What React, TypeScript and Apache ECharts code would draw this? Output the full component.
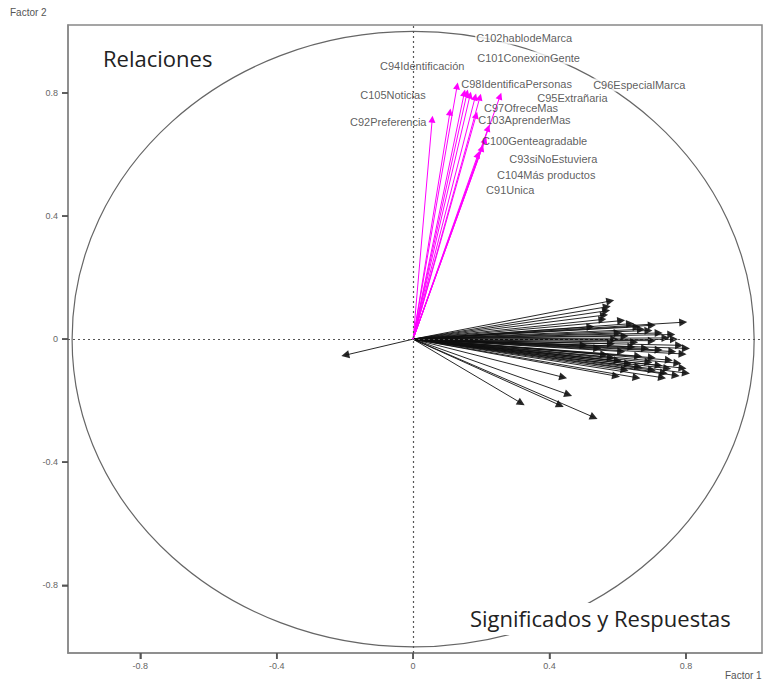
import React, { useEffect, useRef } from 'react';
import * as echarts from 'echarts';

const TICKS = [-0.8, -0.4, 0, 0.4, 0.8];
const X_RANGE = [-1.012, 1.023];
const Y_RANGE = [-1.02, 1.021];
const CIRCLE = { cx: 0, cy: 0, r: 1 };

// Magenta vectors (Relaciones)
const MAG_NAMES = [
  'C92Preferencia', 'C94Identificación', 'C105Noticias', 'C98IdentificaPersonas',
  'C102hablodeMarca', 'C101ConexionGente', 'C96EspecialMarca', 'C95Extrañaria',
  'C97OfreceMas', 'C103AprenderMas', 'C100Genteagradable', 'C93siNoEstuviera',
  'C104Más productos', 'C91Unica',
];
const MAG_X = [0.056, 0.129, 0.108, 0.150, 0.158, 0.167, 0.255, 0.196, 0.182, 0.185, 0.220, 0.211, 0.202, 0.190];
const MAG_Y = [0.715, 0.823, 0.738, 0.800, 0.800, 0.793, 0.790, 0.787, 0.787, 0.728, 0.686, 0.647, 0.621, 0.600];
const LABEL_X = [-0.185, -0.097, -0.155, 0.141, 0.182, 0.185, 0.525, 0.364, 0.208, 0.191, 0.202, 0.282, 0.246, 0.214];
const LABEL_Y = [0.706, 0.888, 0.793, 0.829, 0.979, 0.914, 0.826, 0.784, 0.751, 0.712, 0.644, 0.585, 0.533, 0.485];

// Black vectors (Significados y Respuestas)
const BLACK_X = [
  0.578, 0.568, 0.566, 0.560, 0.555, 0.792, 0.636, 0.655, 0.668, 0.690,
  0.720, 0.757, 0.740, 0.765, 0.700, 0.648, 0.620, 0.600, 0.590, 0.800,
  0.790, 0.760, 0.720, 0.680, 0.640, 0.610, 0.750, 0.775, 0.790, 0.800,
  0.770, 0.735, 0.700, 0.660, 0.630, 0.600, 0.580, 0.560, 0.700, 0.660,
  0.620, 0.655, 0.595, 0.440, 0.455, 0.317, 0.431, 0.530, 0.720, 0.745,
  0.690, 0.580, 0.540, 0.500, 0.780, 0.730, -0.199, 0.700, 0.610, 0.520,
];
const BLACK_Y = [
  0.124, 0.105, 0.092, 0.078, 0.064, 0.055, 0.050, 0.040, 0.032, 0.028,
  0.020, 0.015, 0.004, 0.000, -0.005, -0.010, 0.010, 0.020, 0.000, -0.030,
  -0.048, -0.040, -0.035, -0.030, -0.025, -0.040, -0.068, -0.078, -0.094, -0.110,
  -0.118, -0.110, -0.100, -0.090, -0.080, -0.070, -0.060, -0.050, -0.060, -0.055,
  -0.100, -0.125, -0.120, -0.124, -0.180, -0.208, -0.215, -0.254, -0.085, -0.095,
  -0.075, -0.015, -0.030, -0.020, -0.020, -0.125, -0.052, 0.045, 0.060, 0.040,
];

const LABEL_FONT = 'Liberation Sans, Arial, sans-serif';
const BIG_FONT = '"Open Sans", "Noto Sans", sans-serif';
const TICK_LEN = 6;

export default function App() {
  const ref = useRef<HTMLDivElement>(null);
  useEffect(() => {
    const chart = echarts.init(ref.current!, null, { renderer: 'svg' });

    const blackLines = BLACK_X.map((x, i) => ({ coords: [[0, 0], [x, BLACK_Y[i]]] }));
    const magLines = MAG_X.map((x, i) => ({ coords: [[0, 0], [x, MAG_Y[i]]] }));
    const whiteBg = new Set(['C102hablodeMarca', 'C101ConexionGente', 'C96EspecialMarca']);
    const labelData = MAG_NAMES.map((n, i) => ({
      name: n,
      value: [LABEL_X[i], LABEL_Y[i]],
      label: whiteBg.has(n) ? { backgroundColor: '#fff', padding: [1, 1] } : {},
    }));

    const axisCommon = {
      type: 'value' as const,
      axisLine: { show: true, onZero: false, lineStyle: { color: '#888', width: 1.5 } },
      splitLine: { show: false },
      axisTick: { show: true, inside: false, customValues: TICKS, length: TICK_LEN, lineStyle: { color: '#555', width: 1.5 } },
      axisLabel: { customValues: TICKS, fontSize: 9, color: '#666', fontFamily: LABEL_FONT },
    };

    chart.setOption({
      animation: false,
      backgroundColor: '#fff',
      grid: { left: 68, right: 20, top: 25, bottom: 34, show: true, borderColor: '#888', borderWidth: 1.5, backgroundColor: 'transparent' },
      xAxis: { ...axisCommon, position: 'bottom', min: X_RANGE[0], max: X_RANGE[1], axisLabel: { ...axisCommon.axisLabel, margin: 8 } },
      yAxis: { ...axisCommon, position: 'left', min: Y_RANGE[0], max: Y_RANGE[1], axisLabel: { ...axisCommon.axisLabel, margin: 10 } },
      series: [
        {
          type: 'custom',
          z: 1,
          silent: true,
          data: [[CIRCLE.cx, CIRCLE.cy, CIRCLE.r]],
          renderItem: (params: any, api: any) => {
            const c = api.coord([api.value(0), api.value(1)]);
            const s = api.size([api.value(2), api.value(2)]);
            return {
              type: 'ellipse',
              shape: { cx: c[0], cy: c[1], rx: s[0], ry: s[1] },
              style: { fill: 'none', stroke: '#666', lineWidth: 1.2 },
            };
          },
          markLine: {
            silent: true,
            symbol: ['none', 'none'],
            label: { show: false },
            lineStyle: { color: '#555', type: [2, 3], width: 1.2 },
            data: [{ xAxis: 0 }, { yAxis: 0 }],
          },
        },
        {
          type: 'lines',
          coordinateSystem: 'cartesian2d',
          z: 3,
          silent: true,
          symbol: ['none', 'triangle'],
          symbolSize: 8,
          lineStyle: { color: '#111', width: 1, opacity: 0.9 },
          data: blackLines,
        },
        {
          type: 'lines',
          coordinateSystem: 'cartesian2d',
          z: 4,
          silent: true,
          symbol: ['none', 'triangle'],
          symbolSize: 7,
          lineStyle: { color: '#ff00ff', width: 1, opacity: 1 },
          itemStyle: { color: '#ff00ff' },
          data: magLines,
        },
        {
          type: 'scatter',
          z: 5,
          silent: true,
          symbolSize: 0,
          data: labelData,
          label: {
            show: true,
            position: 'right',
            distance: 0,
            formatter: '{b}',
            fontSize: 11,
            color: '#333',
            fontFamily: LABEL_FONT,
          },
        },
      ],
      graphic: [
        { type: 'text', id: 'f2', z: 100, left: 10, top: 7, style: { text: 'Factor 2', fontSize: 10, fill: '#555', fontFamily: LABEL_FONT } },
        { type: 'text', id: 'f1', z: 100, left: 725, top: 670, style: { text: 'Factor 1', fontSize: 10, fill: '#555', fontFamily: LABEL_FONT } },
        { type: 'text', id: 'rel', z: 100, left: 103, top: 47, style: { text: 'Relaciones', fontSize: 22, fill: '#222', fontFamily: BIG_FONT } },
        {
          type: 'text', id: 'sig', z: 100, left: 466, top: 603,
          style: { text: 'Significados y Respuestas', fontSize: 22, fill: '#222', fontFamily: BIG_FONT, backgroundColor: '#fff', padding: [4, 4, 6, 4] },
        },
      ],
    });

    // Extra tick marks as small filled rects, placed through the axes' scales
    const tickEls: any[] = [];
    TICKS.forEach((v, i) => {
      const px = chart.convertToPixel({ gridIndex: 0 }, [v, Y_RANGE[0]]) as number[];
      const py = chart.convertToPixel({ gridIndex: 0 }, [X_RANGE[0], v]) as number[];
      if (px && py) {
        tickEls.push({ type: 'rect', id: 'tx' + i, z: 120, silent: true, shape: { x: px[0] - 0.75, y: px[1], width: 1.5, height: TICK_LEN }, style: { fill: '#555' } });
        tickEls.push({ type: 'rect', id: 'ty' + i, z: 120, silent: true, shape: { x: py[0] - TICK_LEN, y: py[1] - 0.75, width: TICK_LEN, height: 1.5 }, style: { fill: '#555' } });
      }
    });
    if (tickEls.length) chart.setOption({ graphic: tickEls });

    return () => chart.dispose();
  }, []);
  return <div ref={ref} style={{ position: 'absolute', left: 0, top: 0, width: 782, height: 687 }} />;
}
